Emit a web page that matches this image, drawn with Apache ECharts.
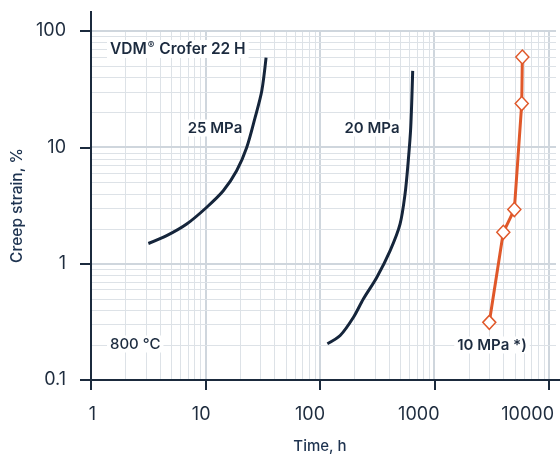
<!DOCTYPE html>
<html><head><meta charset="utf-8">
<script src="https://cdn.jsdelivr.net/npm/echarts@6/dist/echarts.min.js"></script>
<style>html,body{margin:0;padding:0;background:#fff}#c{width:560px;height:459px}</style>
</head><body><div id="c"></div>
<script>
// ---- data ----
const xTicks = [1, 10, 100, 1000, 10000];
const yTicks = [0.1, 1, 10, 100];
const time25 = [3.17, 4.58, 6.85, 10.2, 14.3, 18.7, 22.9, 27.1, 31.0, 33.8];
const strain25 = [1.49, 1.74, 2.19, 3.04, 4.23, 6.28, 9.96, 18.0, 30.5, 59];
const time20 = [116, 150, 196, 239, 313, 409, 500, 553, 590, 620, 645];
const strain20 = [0.205, 0.241, 0.346, 0.497, 0.762, 1.29, 2.19, 3.97, 7.66, 14.8, 45.4];
const time10 = [3010, 3990, 4980, 5780, 5850];
const strain10 = [0.313, 1.86, 2.92, 23.8, 59.8];
const seriesNames = ['25 MPa', '20 MPa', '10 MPa *)'];

// ---- grid line positions (1..9 x 10^k) ----
const mults = [1, 2, 3, 4, 5, 6, 7, 8, 9];
const gridData = [];
for (let i = 0; i < xTicks.length; i++) {
  mults.forEach(m => { const v = xTicks[i] * m; if (v <= 10000) gridData.push([v, 1, 0]); });
}
for (let i = 0; i < yTicks.length; i++) {
  mults.forEach(m => { const v = yTicks[i] * m; if (v <= 100 + 1e-9) gridData.push([1, v, 1]); });
}
const pair = (xs, ys) => xs.map((x, i) => [x, ys[i]]);

const NAVY = '#15253b';
const AX = '#1b2a3d';
const ORANGE = '#e0582a';
const FONT = 'Inter, "Noto Sans", sans-serif';

const chart = echarts.init(document.getElementById('c'), null, {renderer: 'canvas'});
const fmt = v => String(Number(v.toPrecision(6)));
const xMin = xTicks[0], xMax = xTicks[xTicks.length - 1];
const yMin = yTicks[0], yMax = yTicks[yTicks.length - 1];

chart.setOption({
  animation: false,
  backgroundColor: '#fff',
  grid: [
    {left: 91, right: 11, top: 31, bottom: 79, containLabel: false, outerBoundsMode: 'none'},
    // label-only grid, offset so tick labels sit right-aligned just past each tick
    {left: 96, right: 6, top: 31, bottom: 79, containLabel: false, outerBoundsMode: 'none'}
  ],
  xAxis: [{
    type: 'log', logBase: 10, min: xMin, max: xMax,
    axisLine: {lineStyle: {color: AX, width: 2}},
    axisTick: {show: true, length: 10, lineStyle: {color: AX, width: 2}},
    axisLabel: {show: false},
    splitLine: {show: false},
    name: 'Time, h', nameLocation: 'middle', nameGap: 59,
    nameTextStyle: {fontSize: 15, color: '#1e3350', fontFamily: FONT, fontWeight: 500}
  }, {
    gridIndex: 1, type: 'log', logBase: 10, min: xMin, max: xMax,
    axisLine: {show: false}, axisTick: {show: false}, splitLine: {show: false},
    axisLabel: {fontSize: 18, color: '#1e2c3e', margin: 26, fontFamily: FONT, formatter: fmt, align: 'right'}
  }],
  yAxis: [{
    type: 'log', logBase: 10, min: yMin, max: yMax,
    axisLine: {show: true, lineStyle: {color: AX, width: 2}},
    axisTick: {show: true, length: 11, lineStyle: {color: AX, width: 2}},
    axisLabel: {fontSize: 18, color: '#1e2c3e', margin: 25, fontFamily: FONT, formatter: fmt},
    splitLine: {show: false},
    name: 'Creep strain, %', nameLocation: 'middle', nameGap: 65,
    nameTextStyle: {fontSize: 15.5, color: '#1e3350', fontFamily: FONT, fontWeight: 500}
  }, {
    gridIndex: 1, type: 'log', logBase: 10, min: yMin, max: yMax, show: false
  }],
  series: [
    {
      type: 'custom', z: 0, silent: true, clip: false,
      data: gridData,
      renderItem: function (params, api) {
        const kind = api.value(2);
        let p1, p2, v;
        if (kind === 0) {
          v = api.value(0);
          p1 = api.coord([v, yMin]); p2 = api.coord([v, yMax]);
        } else {
          v = api.value(1);
          p1 = api.coord([xMin, v]); p2 = api.coord([xMax, v]); p2[0] += 7;
        }
        const lg = Math.log10(v);
        const major = Math.abs(lg - Math.round(lg)) < 1e-6;
        const w = major ? 2 : 1;
        const off = major ? 0 : 0.5;
        let x1 = p1[0], y1 = p1[1], x2 = p2[0], y2 = p2[1];
        if (kind === 0) { x1 = x2 = Math.round(x1) + off; } else { y1 = y2 = Math.round(y1) + off; }
        return {type: 'line', shape: {x1, y1, x2, y2},
          style: {stroke: major ? '#cfd6dd' : '#dde2e7', lineWidth: w}};
      }
    },
    {
      name: seriesNames[0], type: 'line', z: 3, data: pair(time25, strain25),
      smooth: 0.3, showSymbol: false,
      lineStyle: {color: NAVY, width: 3, cap: 'butt'}
    },
    {
      name: seriesNames[1], type: 'line', z: 3, data: pair(time20, strain20),
      smooth: 0.3, showSymbol: false,
      lineStyle: {color: NAVY, width: 3, cap: 'butt'}
    },
    {
      name: seriesNames[2], type: 'line', z: 4, data: pair(time10, strain10),
      symbol: 'diamond', symbolSize: [13, 14], showSymbol: true,
      lineStyle: {color: ORANGE, width: 3},
      itemStyle: {color: '#fff', borderColor: ORANGE, borderWidth: 1.5}
    }
  ]
});

// decoration: axis line extensions and annotation texts
const pTop = chart.convertToPixel({gridIndex: 0}, [xMin, yMax]);
const pRight = chart.convertToPixel({gridIndex: 0}, [xMax, yMin]);
const txt = (text, x, y, align, size, weight) => ({
  type: 'text', z: 10, x, y,
  style: {text, fill: '#1c2b3f', font: `${weight} ${size}px ${FONT}`, align, verticalAlign: 'middle',
    backgroundColor: '#fff', padding: [1, 3, 1, 3]}
});
chart.setOption({
  graphic: [
    {type: 'line', z: 10, shape: {x1: pTop[0], y1: pTop[1] - 20, x2: pTop[0], y2: pTop[1] + 1},
      style: {stroke: AX, lineWidth: 2}},
    {type: 'line', z: 10, shape: {x1: pRight[0] - 1, y1: pRight[1], x2: pRight[0] + 11, y2: pRight[1]},
      style: {stroke: AX, lineWidth: 2}},
    {type: 'text', z: 10, x: 107, y: 49,
      style: {text: '{a|VDM}{r|®}{a| Crofer 22 H}', verticalAlign: 'middle', align: 'left',
        backgroundColor: '#fff', padding: [1, 3, 1, 3],
        rich: {a: {fontSize: 15.5, fontWeight: 600, fontFamily: FONT, fill: '#1c2b3f', color: '#1c2b3f'},
               r: {fontSize: 10, fontWeight: 600, fontFamily: FONT, fill: '#1c2b3f', color: '#1c2b3f', verticalAlign: 'top', padding: [0, 1, 6, 1]}}}},
    txt(seriesNames[0], 215, 128, 'center', 15, 600),
    txt(seriesNames[1], 372, 128, 'center', 15, 600),
    txt(seriesNames[2], 492, 345, 'center', 15, 600),
    txt('800 °C', 107, 344, 'left', 15, 500)
  ]
});
</script>
</body></html>
